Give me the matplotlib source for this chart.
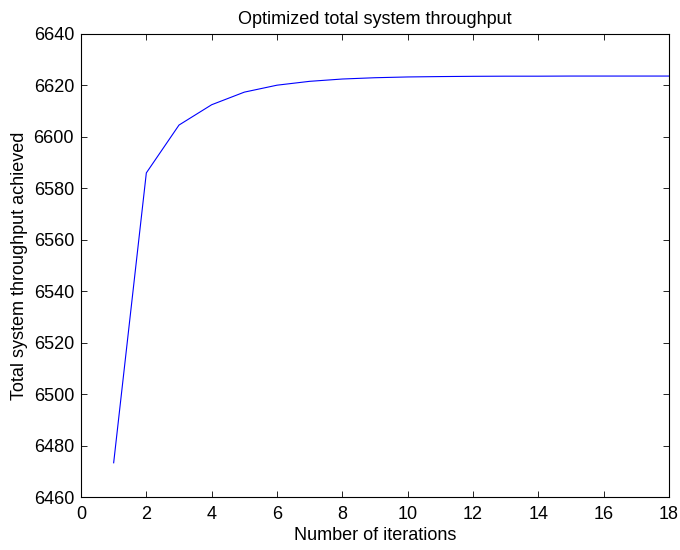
import matplotlib
matplotlib.use("Agg")
import matplotlib.pyplot as plt

iterations = list(range(1, 19))
throughput = [6473.3, 6586.0, 6604.6, 6612.5, 6617.4, 6620.1, 6621.6, 6622.5,
              6623.0, 6623.3, 6623.45, 6623.55, 6623.6, 6623.6, 6623.65,
              6623.65, 6623.65, 6623.65]
xticks = list(range(0, 19, 2))
yticks = list(range(6460, 6641, 20))

plt.rcParams['font.family'] = ['Liberation Sans', 'DejaVu Sans']
plt.rcParams['font.size'] = 13

fig = plt.figure(figsize=(6.8, 5.5), dpi=100)
ax = fig.add_axes([81/680, 1-497/550, (669-81)/680, (497-34)/550])
ax.plot(iterations, throughput, color='#0000ff', linewidth=0.8)
ax.set_xlim(0, 18)
ax.set_ylim(6460, 6640)
ax.set_xticks(xticks)
ax.set_yticks(yticks)
ax.tick_params(direction='in', top=True, right=True, length=4, width=0.6,
               labelsize=13, color='black')
ax.tick_params(axis='x', pad=6.5)
ax.tick_params(axis='y', pad=5)
for s in ax.spines.values():
    s.set_linewidth(0.8)
    s.set_color('black')
ax.set_title('Optimized total system throughput', fontsize=13, pad=7)
ax.set_xlabel('Number of iterations', fontsize=13, labelpad=2.5)
ax.set_ylabel('Total system throughput achieved', fontsize=13, labelpad=4)
fig.savefig('out.png', dpi=100)
